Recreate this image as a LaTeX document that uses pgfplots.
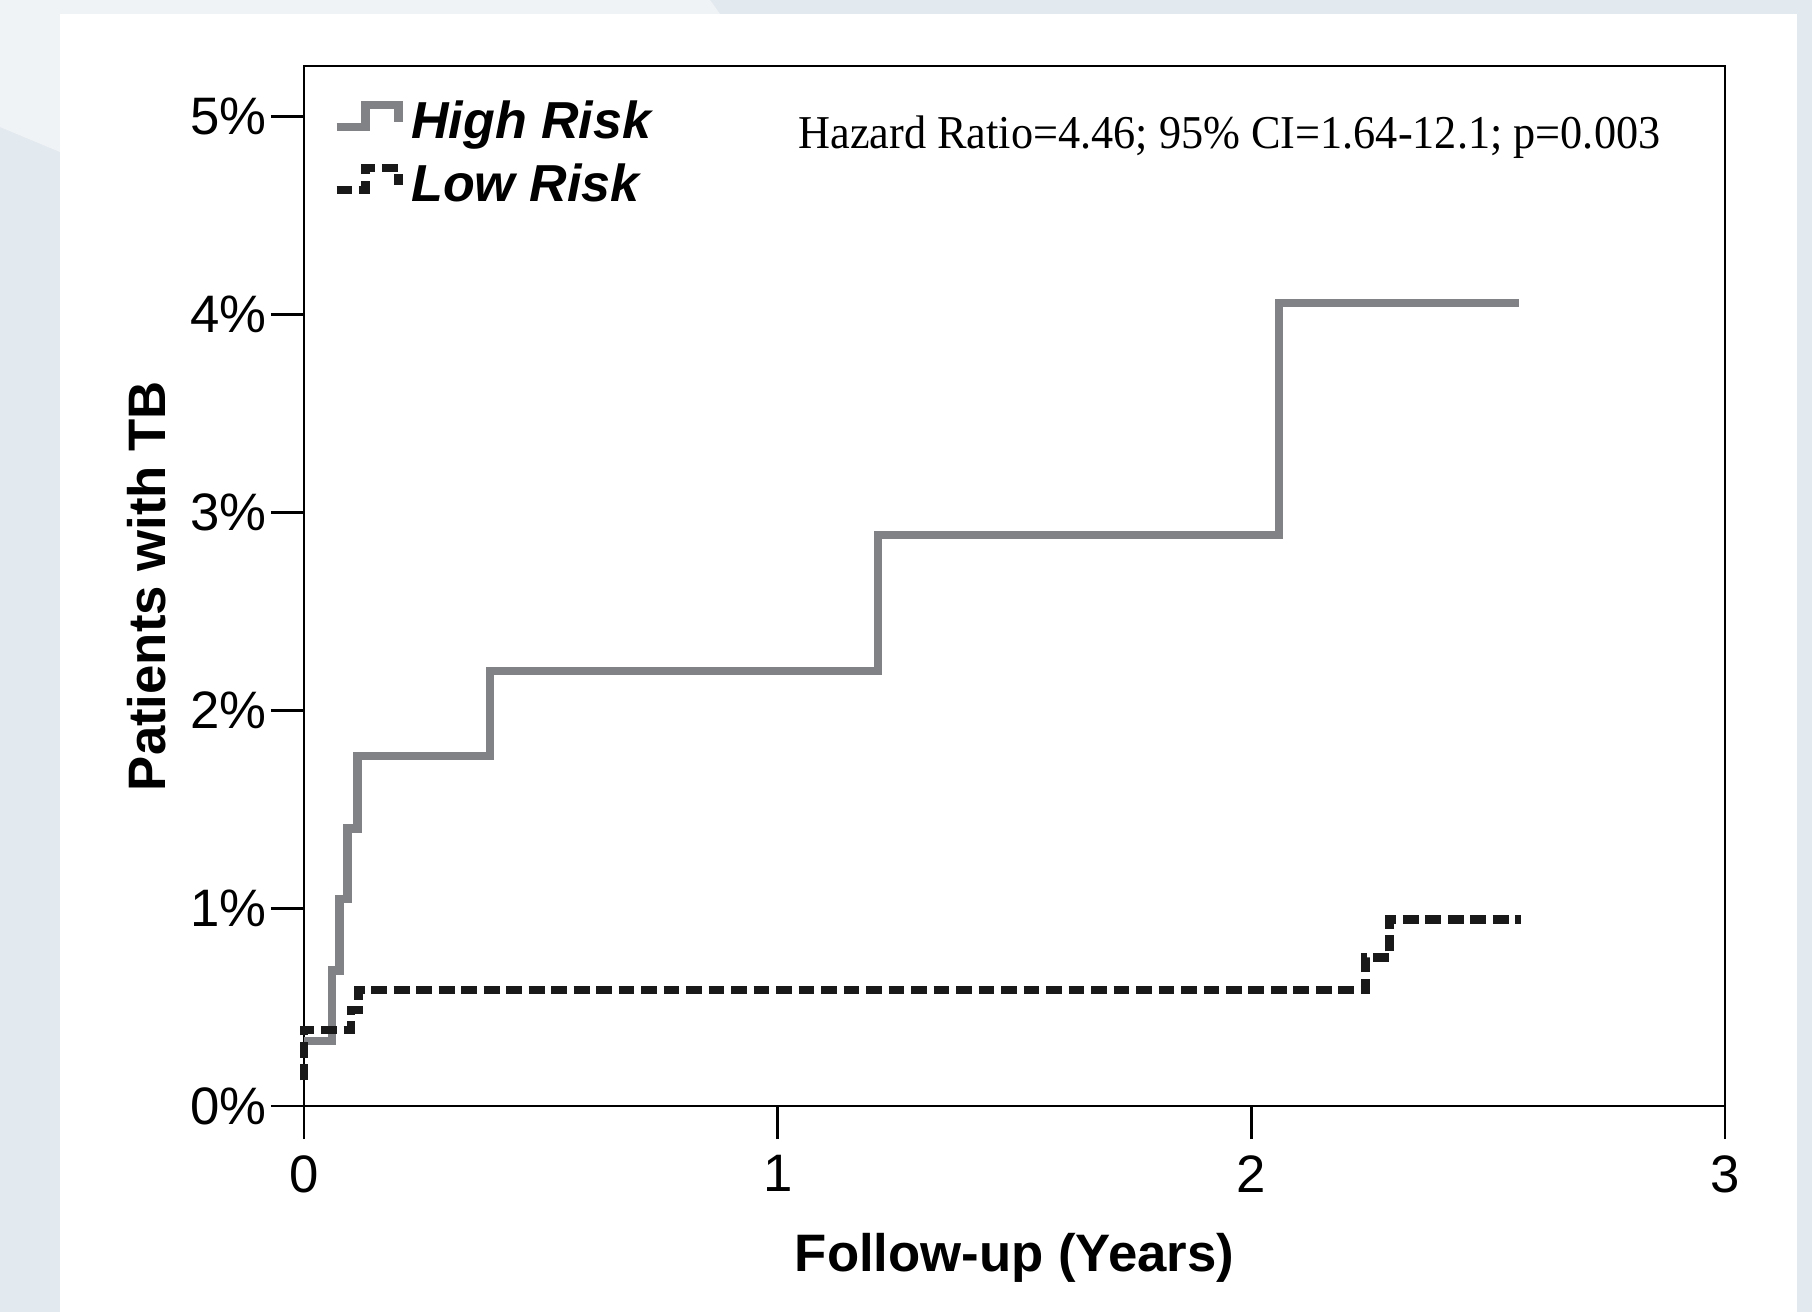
\documentclass[border=0pt]{standalone}
\usepackage{pgfplots}
\pgfplotsset{compat=1.18}
\usepackage{fontspec}
\setmainfont{Liberation Sans}
\newfontfamily\timesfont{Liberation Serif}
\definecolor{hiGray}{RGB}{128,130,133}
\definecolor{bgBlue}{RGB}{226,233,239}
\definecolor{bgLight}{RGB}{240,243,246}
\begin{document}
\begin{tikzpicture}
% background
\fill[bgBlue] (0,0) rectangle (18.12cm,13.12cm);
\fill[bgLight] (0,13.12cm) -- (7.1cm,13.12cm) -- (7.2cm,12.98cm) -- (0.6cm,12.98cm) -- (0.6cm,11.6cm) -- (0,11.85cm) -- cycle;
\fill[white] (0.6cm,0) rectangle (17.97cm,12.98cm);
\begin{axis}[
  at={(3.04cm,2.06cm)}, anchor=south west,
  scale only axis, width=14.21cm, height=10.40cm,
  xmin=0, xmax=3, ymin=0, ymax=5.257,
  xtick={0,1,2,3}, ytick={0,1,2,3,4,5},
  yticklabels={0\%,1\%,2\%,3\%,4\%,5\%},
  xtick pos=bottom, ytick pos=left,
  tick align=outside,
  major tick length=3.3mm,
  every tick/.style={black, line width=0.8pt},
  axis line style={line width=0.8pt, black},
  /pgf/number format/assume math mode=true,
  tick label style={font=\fontsize{15}{18}\selectfont},
  yticklabel style={inner sep=0pt, xshift=-0.4mm},
  xticklabel style={inner sep=1pt, yshift=-1.2mm},
  xlabel={Follow-up (Years)},
  ylabel={Patients with TB},
  every axis x label/.style={at={(axis description cs:0.5,-0.1456)}, anchor=center, font=\bfseries\fontsize{15}{18}\selectfont},
  every axis y label/.style={at={(axis description cs:-0.1105,0.5)}, anchor=center, rotate=90, font=\bfseries\fontsize{15}{18}\selectfont},
  legend style={at={(axis description cs:0.012,0.981)}, anchor=north west, draw=none, fill=none,
    font=\bfseries\itshape\fontsize{14.8}{17}\selectfont, row sep=0.6mm,
    /tikz/every even column/.append style={column sep=0mm},
    /tikz/every odd column/.append style={column sep=0.15mm}},
  legend cell align=left,
  legend image code/.code={\draw[#1] (0cm,-0.05cm) -- (0.29cm,-0.05cm) -- (0.29cm,0.17cm) -- (0.62cm,0.17cm) -- (0.62cm,0.0cm);},
  clip=false,
]
\addplot[const plot, hiGray, line width=2.4pt, line join=miter, line cap=butt] coordinates {
  (0,0.33) (0.059,0.686) (0.075,1.046) (0.092,1.403) (0.113,1.768)
  (0.393,2.20) (1.212,2.885) (2.059,4.06) (2.566,4.06)
};
\addlegendentry{High Risk}
\addplot[const plot, black!90, line width=2.4pt, line cap=butt, dash pattern=on 4.5pt off 1.9pt] coordinates {
  (0,0.13) (0,0.385) (0.099,0.485) (0.115,0.586) (2.241,0.751) (2.292,0.943) (2.570,0.943)
};
\addlegendentry{Low Risk}
\node[anchor=center, font=\timesfont\fontsize{13.4}{16}\selectfont, inner sep=0pt, xscale=0.94, transform shape] at (axis description cs:0.6513,0.932) {Hazard Ratio=4.46; 95\% CI=1.64-12.1; p=0.003};
\end{axis}
\pgfresetboundingbox
\path[use as bounding box] (0,0) rectangle (18.12cm,13.12cm);
\end{tikzpicture}
\end{document}
